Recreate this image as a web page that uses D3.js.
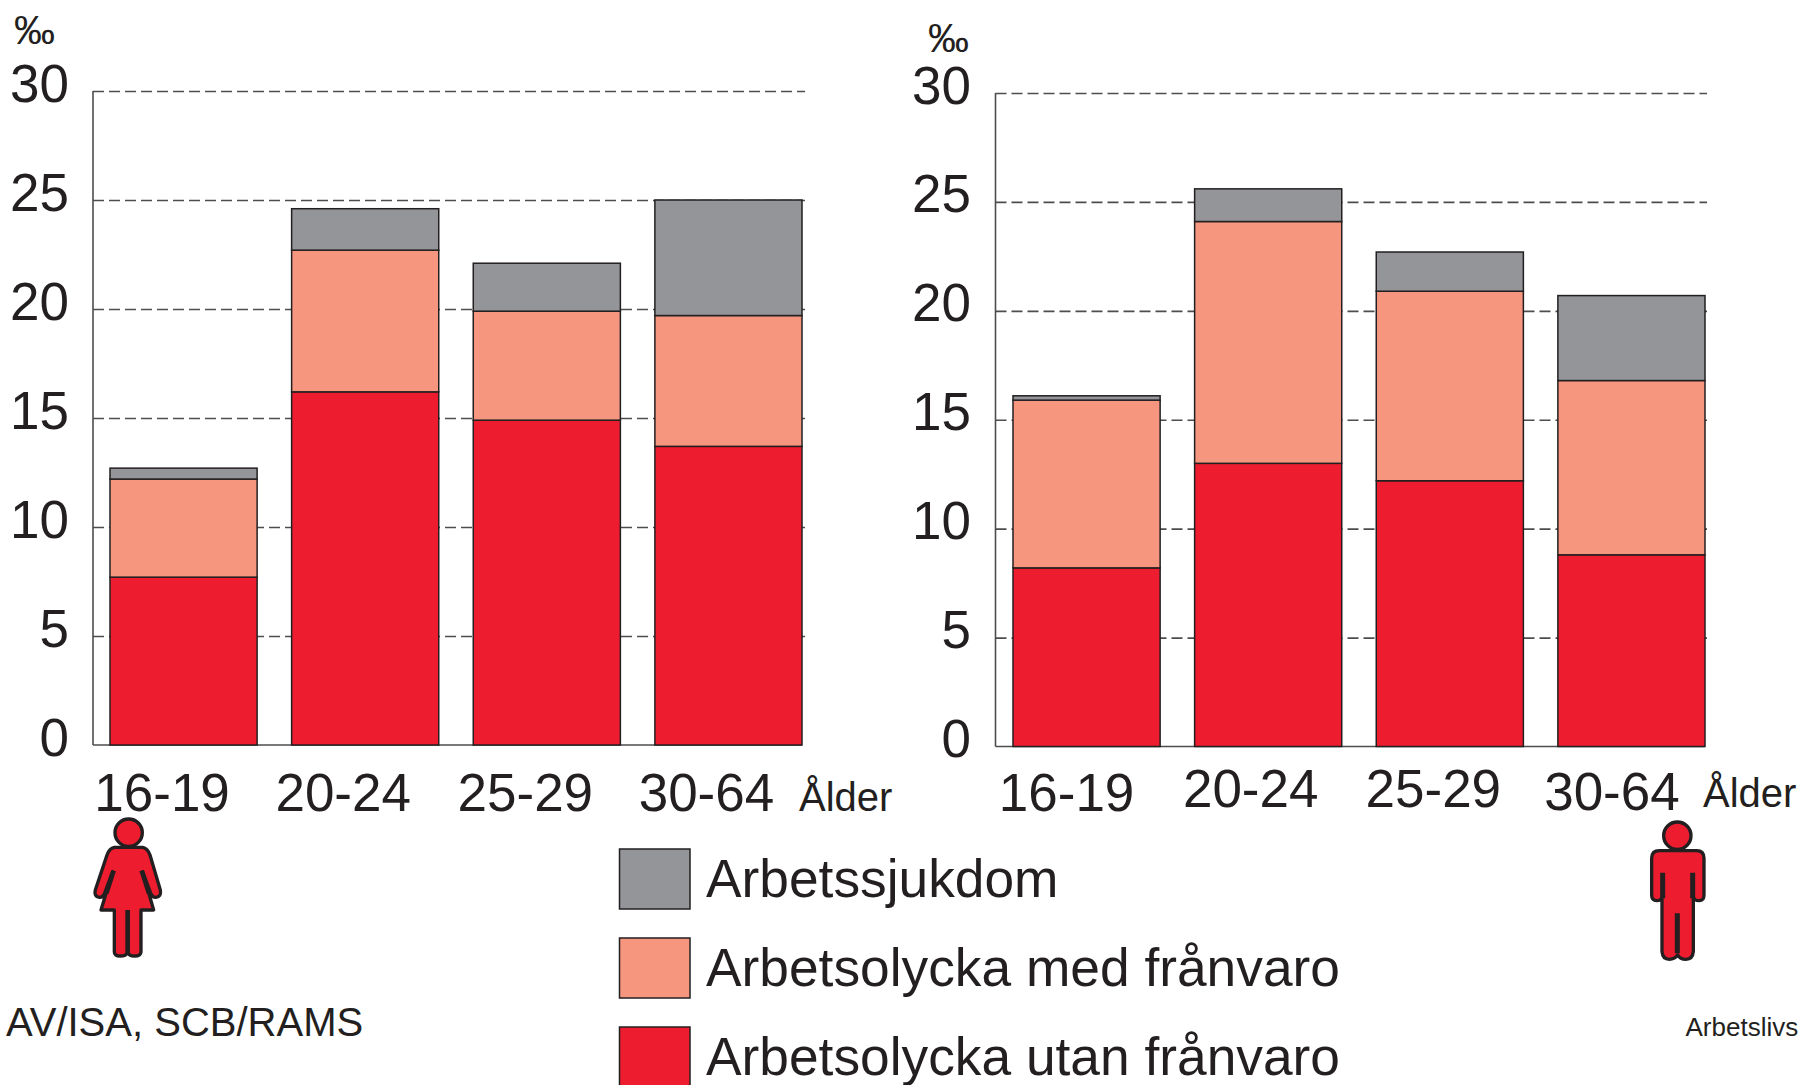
<!DOCTYPE html>
<html><head><meta charset="utf-8">
<script src="https://cdn.jsdelivr.net/npm/d3@7"></script>
<style>
html,body{margin:0;padding:0;background:#fff;overflow:hidden}
text{font-family:"Liberation Sans",Arial,sans-serif;fill:#231f20}
</style></head><body>
<script>
const ageGroups = ["16-19","20-24","25-29","30-64"];
const yTicks = [0,5,10,15,20,25,30];
const seriesNames = ["Arbetsolycka utan frånvaro","Arbetsolycka med frånvaro","Arbetssjukdom"];
const seriesColors = ["#ed1c2e","#f6967f","#939598"];
const womenUtan = [7.7,16.2,14.9,13.7];
const womenMed  = [4.5,6.5,5.0,6.0];
const womenSjuk = [0.5,1.9,2.2,5.3];
const menUtan = [8.2,13.0,12.2,8.8];
const menMed  = [7.7,11.1,8.7,8.0];
const menSjuk = [0.2,1.5,1.8,3.9];
const legendOrder = [2,1,0];

const ink="#231f20", line="#4d4d4f";
const svg=d3.select("body").append("svg").attr("width",1800).attr("height",1085).style("display","block");

function panel(cfg,series){
  const g=svg.append("g");
  const y=d3.scaleLinear().domain([0,30]).range([cfg.y0,cfg.y30]);
  const x=d3.scaleBand().domain(ageGroups).range([cfg.barL,cfg.barR]).paddingInner(0.19).paddingOuter(0);
  const rows=ageGroups.map((a,i)=>({age:a,s0:series[0][i],s1:series[1][i],s2:series[2][i]}));
  const stack=d3.stack().keys(["s0","s1","s2"])(rows);

  const grid=g.append("g").attr("transform",`translate(${cfg.axisX},0)`)
    .call(d3.axisLeft(y).tickValues(yTicks.filter(t=>t>0)).tickSize(-(cfg.gridR-cfg.axisX)).tickFormat(""));
  grid.select(".domain").remove();
  grid.selectAll("line").attr("stroke",line).attr("stroke-width",1.6).attr("stroke-dasharray","11 5");

  g.append("line").attr("x1",cfg.axisX).attr("x2",cfg.axisX).attr("y1",y(30)).attr("y2",y(0)).attr("stroke",line).attr("stroke-width",1.6);
  g.append("line").attr("x1",cfg.axisX).attr("x2",cfg.barR).attr("y1",y(0)).attr("y2",y(0)).attr("stroke",line).attr("stroke-width",1.6);

  const ya=g.append("g").attr("transform",`translate(${cfg.labelR},0)`)
    .call(d3.axisLeft(y).tickValues(yTicks).tickSize(0).tickPadding(0));
  ya.select(".domain").remove();
  ya.selectAll("text").attr("x",0).attr("dy",null).attr("y",cfg.yLabelDy)
    .attr("text-anchor","end").style("font-size","53px").style("font-family",'"Liberation Sans"').attr("fill",ink);

  g.selectAll(".layer").data(stack).join("g").attr("class","layer").attr("fill",(d,i)=>seriesColors[i])
    .selectAll("rect").data(d=>d).join("rect")
    .attr("x",d=>x(d.data.age)).attr("width",x.bandwidth())
    .attr("y",d=>y(d[1])).attr("height",d=>y(d[0])-y(d[1]))
    .attr("stroke",ink).attr("stroke-width",1.5);

  const xa=g.append("g").attr("transform",`translate(0,${cfg.y0})`)
    .call(d3.axisBottom(x).tickSize(0));
  xa.select(".domain").remove();
  xa.selectAll("text").attr("dy",null)
    .attr("x",(d,i)=>cfg.catDx[i]).attr("y",(d,i)=>cfg.catBase[i]-cfg.y0)
    .attr("text-anchor","middle").style("font-size","53px").style("font-family",'"Liberation Sans"').attr("fill",ink);

  g.append("text").attr("x",cfg.alderX).attr("y",cfg.alderY).style("font-size","40px").text("Ålder");
  g.append("text").attr("x",cfg.perX).attr("y",cfg.perY).style("font-size","41px").text("‰");
}

panel({axisX:93,y0:745,y30:91,barL:110,barR:802,gridR:805,labelR:69,yLabelDy:10,
  catDx:[-21.5,-22,-21.5,-22],catBase:[811,811,811,811],alderX:799,alderY:811,perX:14,perY:44},
  [womenUtan,womenMed,womenSjuk]);
panel({axisX:995.5,y0:746.5,y30:93,barL:1013,barR:1705,gridR:1707,labelR:971,yLabelDy:10,
  catDx:[-20,-17.5,-16.5,-19.5],catBase:[811,807,807,810],alderX:1703,alderY:807,perX:928,perY:52},
  [menUtan,menMed,menSjuk]);

const legY=[849,938,1027];
legendOrder.forEach((s,i)=>{
  svg.append("rect").attr("x",619.5).attr("y",legY[i]).attr("width",70.5).attr("height",60)
    .attr("fill",seriesColors[s]).attr("stroke",ink).attr("stroke-width",1.5);
  svg.append("text").attr("x",706).attr("y",legY[i]+48).style("font-size","53.3px").text(seriesNames[s]);
});

svg.append("text").attr("x",6).attr("y",1036).style("font-size","40px").text("AV/ISA, SCB/RAMS");
svg.append("text").attr("x",1685.5).attr("y",1036).style("font-size","26px").text("Arbetslivs");

const red=seriesColors[0];
const woman=svg.append("g").attr("transform","translate(1,720) scale(0.3333)");
woman.append("circle").attr("cx",383).attr("cy",338).attr("r",41).attr("fill",red).attr("stroke",ink).attr("stroke-width",10);
woman.append("path").attr("d","M340 382H425Q440 385 447 405L478 510Q482 530 465 532Q455 533 450 522L425 455L458 570H420V695Q420 708 400 708Q385 708 380 698Q375 708 358 708Q340 708 340 695V570H300L335 455L310 522Q305 533 295 532Q278 530 283 510L318 405Q325 385 340 382Z")
  .attr("fill",red).attr("stroke",ink).attr("stroke-width",10).attr("stroke-linejoin","round");
woman.append("path").attr("d","M380 570V700M338 452L316 520M422 452L444 520").attr("stroke",ink).attr("stroke-width",14).attr("fill","none");

const man=svg.append("g").attr("transform","translate(1560,720) scale(0.3333)");
man.append("circle").attr("cx",352).attr("cy",347).attr("r",41).attr("fill",red).attr("stroke",ink).attr("stroke-width",10);
man.append("path").attr("d","M298 392H410Q432 392 432 415V525Q432 542 418 542Q402 542 400 530V695Q398 718 378 718Q360 718 353 705Q345 718 328 718Q308 718 306 695V530Q304 542 290 542Q275 542 275 525V415Q275 392 298 392Z")
  .attr("fill",red).attr("stroke",ink).attr("stroke-width",10).attr("stroke-linejoin","round");
man.append("path").attr("d","M308 458V535M398 458V535M352 580V700").attr("stroke",ink).attr("stroke-width",15).attr("fill","none");
</script>
</body></html>
